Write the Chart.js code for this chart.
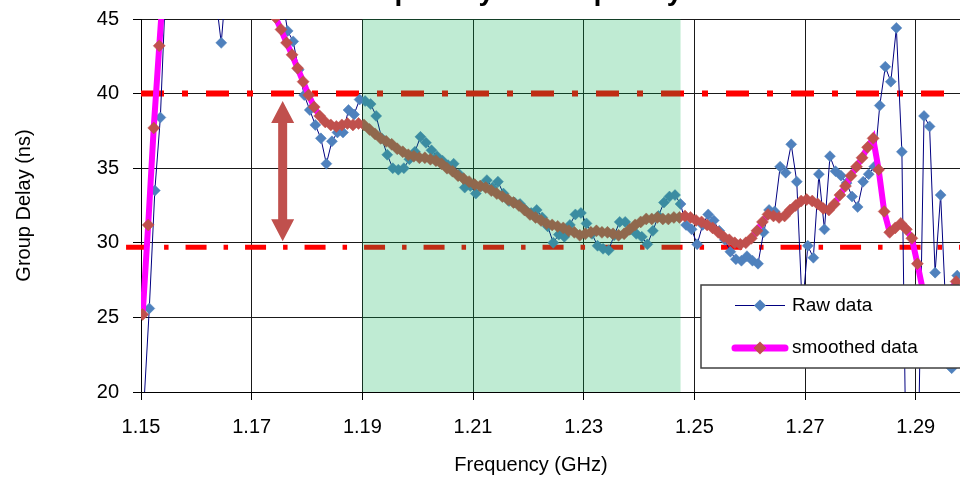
<!DOCTYPE html>
<html>
<head>
<meta charset="utf-8">
<script src="https://cdn.jsdelivr.net/npm/chart.js@4.4.1/dist/chart.umd.min.js"></script>
<style>
  html, body { margin: 0; padding: 0; background: #ffffff; overflow: hidden; }
  #chart { display: block; }
</style>
</head>
<body>
<canvas id="chart" width="960" height="479"></canvas>
<script>
// sweep settings (GHz)
const rawStart = 1.1505;
const smoothStart = 1.1503;
const freqStep = 0.001;

// group delay, ns (values above 45 / below 20 are off the plot)
const rawDelay = [
  19.0, 25.6, 33.5, 38.4, 47.5,
  52, 55, 57, 58, 57, 55, 52, 50, 46.5,
  43.4, 47.9,
  53, 56, 58, 59, 58, 56, 54, 52, 49, 46.5,
  44.2, 43.5, 41.6, 39.9, 38.9, 37.9, 37.0,
  35.3, 36.8, 37.4, 37.4, 38.9, 38.6, 39.6, 39.5, 39.3, 38.5,
  37.0, 35.9, 35.0, 34.9, 35.0, 35.6, 36.1, 37.1, 36.7, 36.2,
  35.8, 35.5, 35.2, 35.3, 34.6, 33.7, 33.8, 33.3, 33.8, 34.2,
  33.7, 34.1, 33.3, 32.8, 32.7, 32.6, 32.2, 32.0, 32.2, 31.7,
  31.1, 30.0, 30.55, 30.4, 31.2, 31.9, 32.0, 31.3, 30.6, 29.8,
  29.6, 29.5, 30.5, 31.4, 31.4, 30.9, 30.6, 30.4, 29.9, 30.8,
  31.8, 32.7, 33.1, 33.2, 32.6, 31.2, 30.9, 29.9, 31.2, 31.9,
  31.5, 30.8, 30.2, 29.4, 28.9, 28.8, 29.1, 28.8, 28.6, 30.7,
  32.2, 32.1, 35.1, 34.7, 36.6, 34.1, 25.5, 29.8, 29.0, 34.6,
  30.9, 35.8, 34.8, 34.5, 34.0, 33.1, 32.4, 34.1, 34.6, 35.1,
  39.2, 41.8, 40.8, 44.4, 36.1, 8, 12, 17, 38.5, 37.8,
  28.0, 33.2, 25.0, 21.6, 27.8
];

const smoothDelay = [
  25.2, 31.2, 37.7, 43.2,
  48.5, 53, 57, 60, 62, 63, 63.5, 63.5, 63, 62, 60.5, 59, 57, 55, 53, 51.5, 50, 48.7, 47.5, 46.2, 45.1,
  44.3, 43.4, 42.6, 41.7, 40.8, 39.9, 39.1, 38.5, 38.1, 37.9, 37.8, 37.9, 38.0, 37.9, 38.0,
  37.9, 37.6, 37.3, 37.0, 36.8, 36.6, 36.3, 36.1, 35.9, 35.8, 35.7, 35.7, 35.6, 35.5, 35.3, 35.0, 34.8, 34.5, 34.3, 34.1,
  33.9, 33.8, 33.7, 33.5, 33.3, 33.1, 32.9, 32.7, 32.5, 32.2, 31.9, 31.7, 31.5, 31.3, 31.2, 31.1, 31.0, 30.8, 30.7, 30.5,
  30.6, 30.7, 30.8, 30.7, 30.7, 30.6, 30.5, 30.6, 30.9, 31.2, 31.4, 31.6, 31.6, 31.7, 31.6, 31.6, 31.7, 31.7, 31.8, 31.7,
  31.5, 31.4, 31.2, 31.0, 30.7, 30.4, 30.2, 30.0, 29.9, 30.0, 30.3, 30.8, 31.4, 31.9, 31.8, 31.7, 31.8, 32.2, 32.5, 32.8,
  32.9, 32.8, 32.6, 32.3, 32.2, 32.6, 33.2, 33.8, 34.5, 35.1, 35.7, 36.4, 37.0, 34.9, 32.1, 30.7, 31.0, 31.3, 30.9, 30.3,
  28.6, 26.8, 25.5, 25.0, 25.3, 26.0, 26.8, 27.4
];

// axes
const xMin = 1.15;
const xMax = 1.298;
const yMin = 20;
const yMax = 45;
const xTickValues = [1.15, 1.17, 1.19, 1.21, 1.23, 1.25, 1.27, 1.29];
const yTickValues = [20, 25, 30, 35, 40, 45];

// limit lines, shaded band, arrow
const upperLimit = 40;
const lowerLimit = 29.7;
const upperLimitFrom = 1.15;
const lowerLimitFrom = 1.1473;
const bandFrom = 1.19;
const bandTo = 1.2475;
const arrowFreq = 1.1756;
const arrowTop = 39.5;
const arrowBottom = 30.1;

const titleText = "Group Delay vs Frequency";
const xTitleText = "Frequency (GHz)";
const yTitleText = "Group Delay (ns)";

const FONT = "'Liberation Sans', Arial, sans-serif";
const colors = {
  raw: "#4f81bd",
  rawLine: "#000080",
  smooth: "#ff00ff",
  smoothMarker: "#c0504d",
  limit: "#ff0000",
  band: "rgba(0, 176, 80, 0.25)",
  arrow: "#c0504d",
};

const toPoints = (start, values) =>
  values.map((v, i) => ({ x: +(start + i * freqStep).toFixed(4), y: v }));

const fixedTicks = (values) => (scale) => {
  scale.ticks = values.map((v) => ({ value: v }));
};

const overlayPlugin = {
  id: "overlay",
  afterDatasetsDraw(chart) {
    const { ctx, chartArea, scales } = chart;
    const x0 = scales.x.getPixelForValue(bandFrom);
    const x1 = scales.x.getPixelForValue(bandTo);
    ctx.save();
    ctx.fillStyle = colors.band;
    ctx.fillRect(x0, chartArea.top, x1 - x0, chartArea.bottom - chartArea.top);

    // double arrow
    const ax = scales.x.getPixelForValue(arrowFreq);
    const yt = scales.y.getPixelForValue(arrowTop);
    const yb = scales.y.getPixelForValue(arrowBottom);
    const head = 22, halfHead = 11.5, halfShaft = 4.5;
    ctx.fillStyle = colors.arrow;
    ctx.beginPath();
    ctx.moveTo(ax, yt);
    ctx.lineTo(ax + halfHead, yt + head);
    ctx.lineTo(ax + halfShaft, yt + head);
    ctx.lineTo(ax + halfShaft, yb - head);
    ctx.lineTo(ax + halfHead, yb - head);
    ctx.lineTo(ax, yb);
    ctx.lineTo(ax - halfHead, yb - head);
    ctx.lineTo(ax - halfShaft, yb - head);
    ctx.lineTo(ax - halfShaft, yt + head);
    ctx.lineTo(ax - halfHead, yt + head);
    ctx.closePath();
    ctx.fill();
    ctx.restore();
  },
};

const diamond = (ctx, x, y, r, color) => {
  ctx.fillStyle = color;
  ctx.beginPath();
  ctx.moveTo(x, y - r);
  ctx.lineTo(x + r, y);
  ctx.lineTo(x, y + r);
  ctx.lineTo(x - r, y);
  ctx.closePath();
  ctx.fill();
};

const textPlugin = {
  id: "extraText",
  afterDraw(chart) {
    const { ctx, chartArea } = chart;
    ctx.save();

    // legend box
    const lx = chartArea.left + 560, ly = chartArea.top + 266;
    ctx.fillStyle = "#ffffff";
    ctx.fillRect(lx, ly, 300, 83);
    ctx.strokeStyle = "#404040";
    ctx.lineWidth = 1.5;
    ctx.strokeRect(lx, ly, 300, 83);

    ctx.strokeStyle = colors.rawLine;
    ctx.lineWidth = 1;
    ctx.beginPath();
    ctx.moveTo(lx + 34, ly + 20.5);
    ctx.lineTo(lx + 84, ly + 20.5);
    ctx.stroke();
    diamond(ctx, lx + 59, ly + 20.5, 6, colors.raw);

    ctx.strokeStyle = colors.smooth;
    ctx.lineWidth = 7;
    ctx.lineCap = "round";
    ctx.beginPath();
    ctx.moveTo(lx + 34, ly + 63);
    ctx.lineTo(lx + 84, ly + 63);
    ctx.stroke();
    diamond(ctx, lx + 59, ly + 63, 6.5, colors.smoothMarker);

    ctx.fillStyle = "#000000";
    ctx.font = `19px ${FONT}`;
    ctx.textAlign = "left";
    ctx.textBaseline = "middle";
    ctx.fillText("Raw data", lx + 91, ly + 20.5);
    ctx.fillText("smoothed data", lx + 91, ly + 63);

    // x axis title
    ctx.font = `20px ${FONT}`;
    ctx.textAlign = "center";
    ctx.fillText(xTitleText, chartArea.left + 390, 465);

    // chart title, mostly above the visible area
    ctx.font = `bold 28px ${FONT}`;
    ctx.textBaseline = "alphabetic";
    ctx.fillText(titleText, 505, 0);
    ctx.restore();
  },
};

const tickFont = { family: FONT, size: 20 };

new Chart(document.getElementById("chart"), {
  type: "line",
  data: {
    datasets: [
      {
        label: "smoothed data",
        data: toPoints(smoothStart, smoothDelay),
        borderColor: colors.smooth,
        borderWidth: 6,
        pointStyle: "rectRot",
        pointRadius: 6,
        pointBackgroundColor: colors.smoothMarker,
        pointBorderColor: colors.smoothMarker,
        pointBorderWidth: 0.5,
        tension: 0,
      },
      {
        label: "Raw data",
        data: toPoints(rawStart, rawDelay),
        borderColor: colors.rawLine,
        borderWidth: 1,
        pointStyle: "rectRot",
        pointRadius: 5.5,
        pointBackgroundColor: colors.raw,
        pointBorderColor: colors.raw,
        pointBorderWidth: 0.5,
        tension: 0,
      },
      {
        label: "upper",
        data: [{ x: upperLimitFrom, y: upperLimit }, { x: xMax, y: upperLimit }],
        borderColor: colors.limit,
        borderWidth: 6,
        borderDash: [23, 18, 6, 18],
        pointRadius: 0,
      },
      {
        label: "lower",
        data: [{ x: lowerLimitFrom, y: lowerLimit }, { x: xMax, y: lowerLimit }],
        borderColor: colors.limit,
        borderWidth: 5,
        borderDash: [21, 17, 4.5, 17],
        pointRadius: 0,
        clip: { left: 20, top: 0, right: 0, bottom: 0 },
      },
    ],
  },
  options: {
    responsive: false,
    animation: false,
    layout: { autoPadding: false, padding: { top: 19, right: 0, bottom: 0, left: 0 } },
    plugins: {
      legend: { display: false },
      tooltip: { enabled: false },
      title: { display: false },
    },
    scales: {
      x: {
        type: "linear",
        min: xMin,
        max: xMax,
        afterBuildTicks: fixedTicks(xTickValues),
        afterFit: (s) => {
          s.height = 87;
          s.paddingLeft = 0;
          s.paddingRight = 0;
        },
        ticks: {
          callback: (v) => Number(v).toFixed(2),
          font: tickFont,
          color: "#000000",
          padding: 15,
          maxRotation: 0,
          autoSkip: false,
        },
        grid: { color: "#1a1a1a", lineWidth: 1, tickLength: 8, tickColor: "#000000" },
        border: { color: "#000000", width: 1 },
      },
      y: {
        min: yMin,
        max: yMax,
        afterBuildTicks: fixedTicks(yTickValues),
        afterFit: (s) => {
          s.width = 141;
          s.paddingTop = 0;
          s.paddingBottom = 0;
        },
        ticks: { font: tickFont, color: "#000000", padding: 14 },
        grid: { color: "#1a1a1a", lineWidth: 1, tickLength: 8, tickColor: "#000000" },
        border: { color: "#000000", width: 1 },
        title: {
          display: true,
          text: yTitleText,
          font: tickFont,
          color: "#000000",
          padding: { top: 12, bottom: 0 },
        },
      },
    },
  },
  plugins: [overlayPlugin, textPlugin],
});
</script>
</body>
</html>
